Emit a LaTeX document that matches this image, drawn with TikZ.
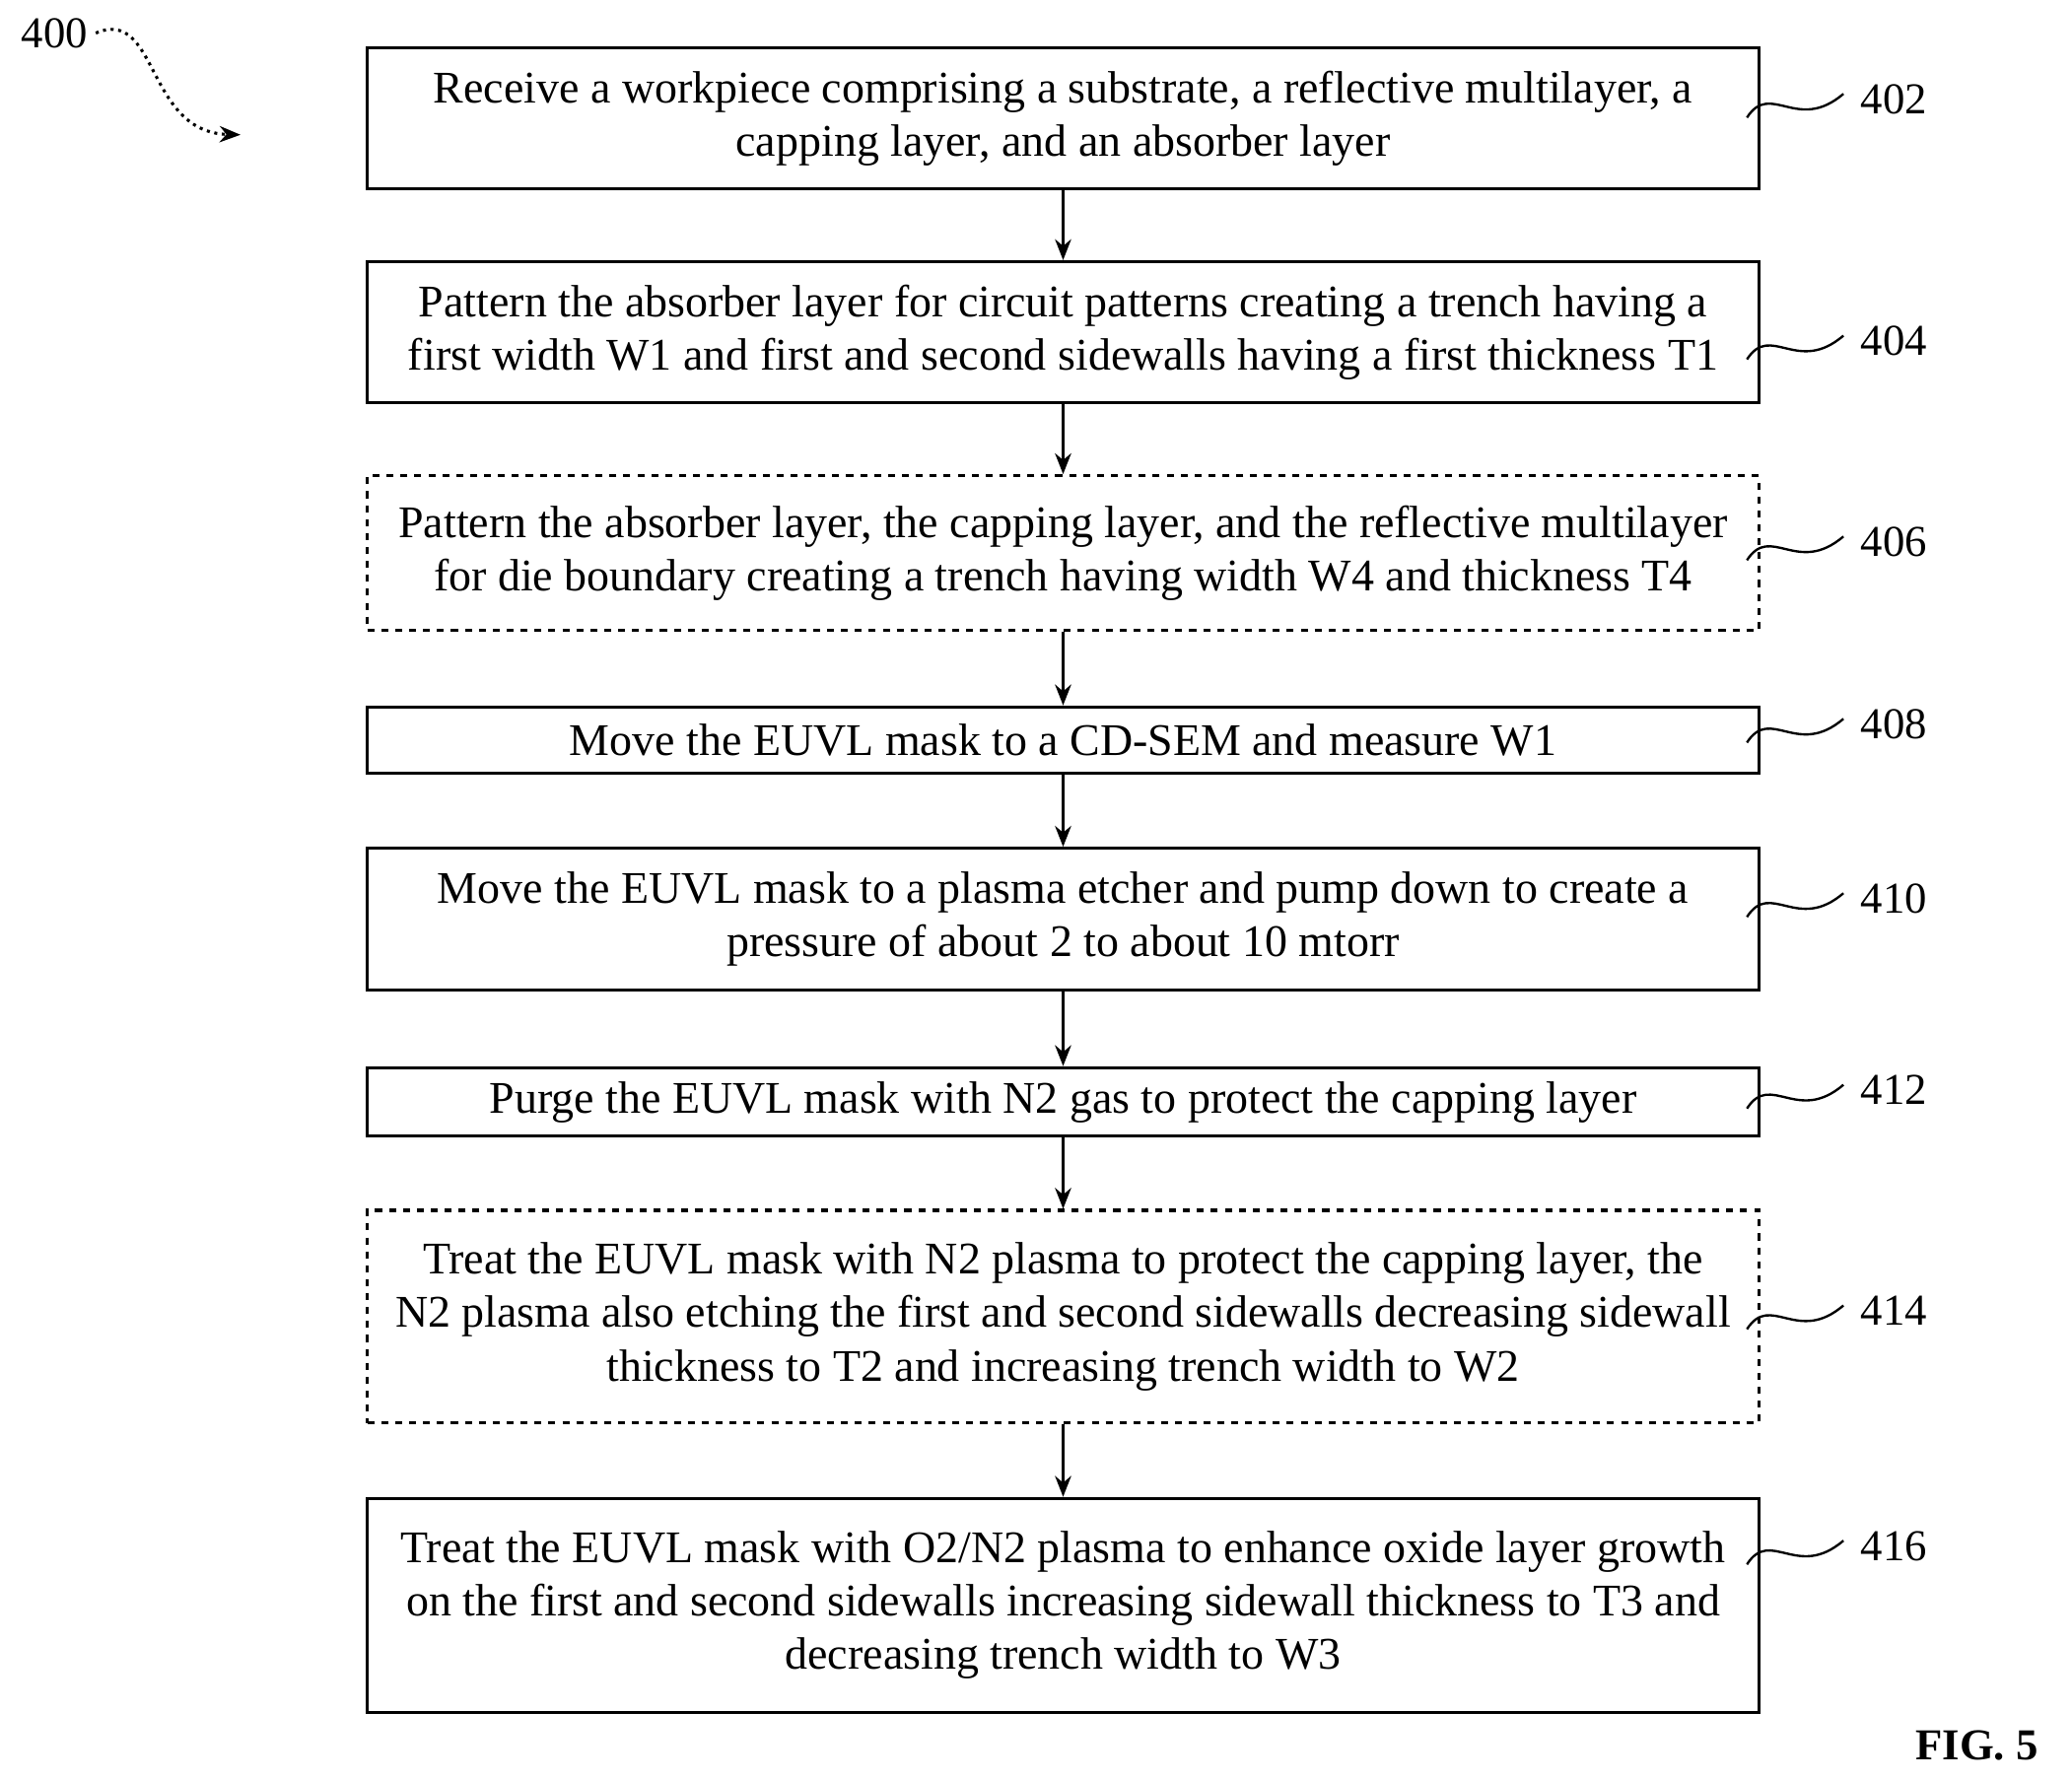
\documentclass[tikz,border=0pt]{standalone}
\usepackage{fontspec}
\setmainfont{Liberation Serif}
\usetikzlibrary{positioning,arrows.meta}

\begin{document}
\begin{tikzpicture}[x=0.02cm, y=-0.02cm,
    stepbox/.style={rectangle, draw, line width=1.3pt, minimum width=1053*0.02cm, align=center,
        inner sep=0pt, font=\fontsize{19.5}{23}\selectfont},
    optbox/.style={stepbox, dashed},
    tag/.style={font=\fontsize{19}{22}\selectfont, anchor=west},
    flow/.style={-{Stealth[length=9pt,width=7pt]}, line width=1.1pt}
]
\useasboundingbox (0,0) rectangle (1568,1347);

\node [stepbox, minimum height=107*0.02cm] (s402) at (804.5,89.5) {Receive a workpiece comprising a substrate, a reflective multilayer, a\\capping layer, and an absorber layer};
\node [stepbox, minimum height=107*0.02cm] (s404) at (804.5,251.5) {Pattern the absorber layer for circuit patterns creating a trench having a\\first width W1 and first and second sidewalls having a first thickness T1};
\node [optbox, minimum height=117*0.02cm] (s406) at (804.5,418.5) {Pattern the absorber layer, the capping layer, and the reflective multilayer\\for die boundary creating a trench having width W4 and thickness T4};
\node [stepbox, minimum height=50*0.02cm] (s408) at (804.5,560) {Move the EUVL mask to a CD-SEM and measure W1};
\node [stepbox, minimum height=107*0.02cm] (s410) at (804.5,695.5) {Move the EUVL mask to a plasma etcher and pump down to create a\\pressure of about 2 to about 10 mtorr};
\node [stepbox, minimum height=52*0.02cm] (s412) at (804.5,834) {Purge the EUVL mask with N2 gas to protect the capping layer};
\node [optbox, minimum height=161*0.02cm] (s414) at (804.5,996.5) {Treat the EUVL mask with N2 plasma to protect the capping layer, the\\N2 plasma also etching the first and second sidewalls decreasing sidewall\\thickness to T2 and increasing trench width to W2};
\node [stepbox, minimum height=162*0.02cm] (s416) at (804.5,1215) {Treat the EUVL mask with O2/N2 plasma to enhance oxide layer growth\\on the first and second sidewalls increasing sidewall thickness to T3 and\\decreasing trench width to W3};

% arrows between steps
\foreach \a/\b in {s402/s404, s404/s406, s406/s408, s408/s410, s410/s412, s412/s414, s414/s416}
    \draw [flow] (\a.south) -- (\b.north);

% reference numerals
\foreach \s/\y in {402/75, 404/258, 406/410, 408/548, 410/680, 412/825, 414/992, 416/1170} {
    \node [tag] (n\s) at (1402,\y) {\s};
    \draw [line width=1pt] (1322,\y+14) .. controls (1340,\y-14) and (1360,\y+26) .. (1395,\y-4);
}

% figure number
\node [tag] (n400) at (10,25) {400};
\coordinate (p400) at (182,102);
\draw [dotted, line width=1.3pt, -{Stealth[length=9pt,width=7pt]}] (n400.east) .. controls (120,5) and (110,100) .. (p400);
\node [font=\bfseries\fontsize{19}{22}\selectfont] (fig) at (1496,1321) {FIG. 5};
\end{tikzpicture}
\end{document}
